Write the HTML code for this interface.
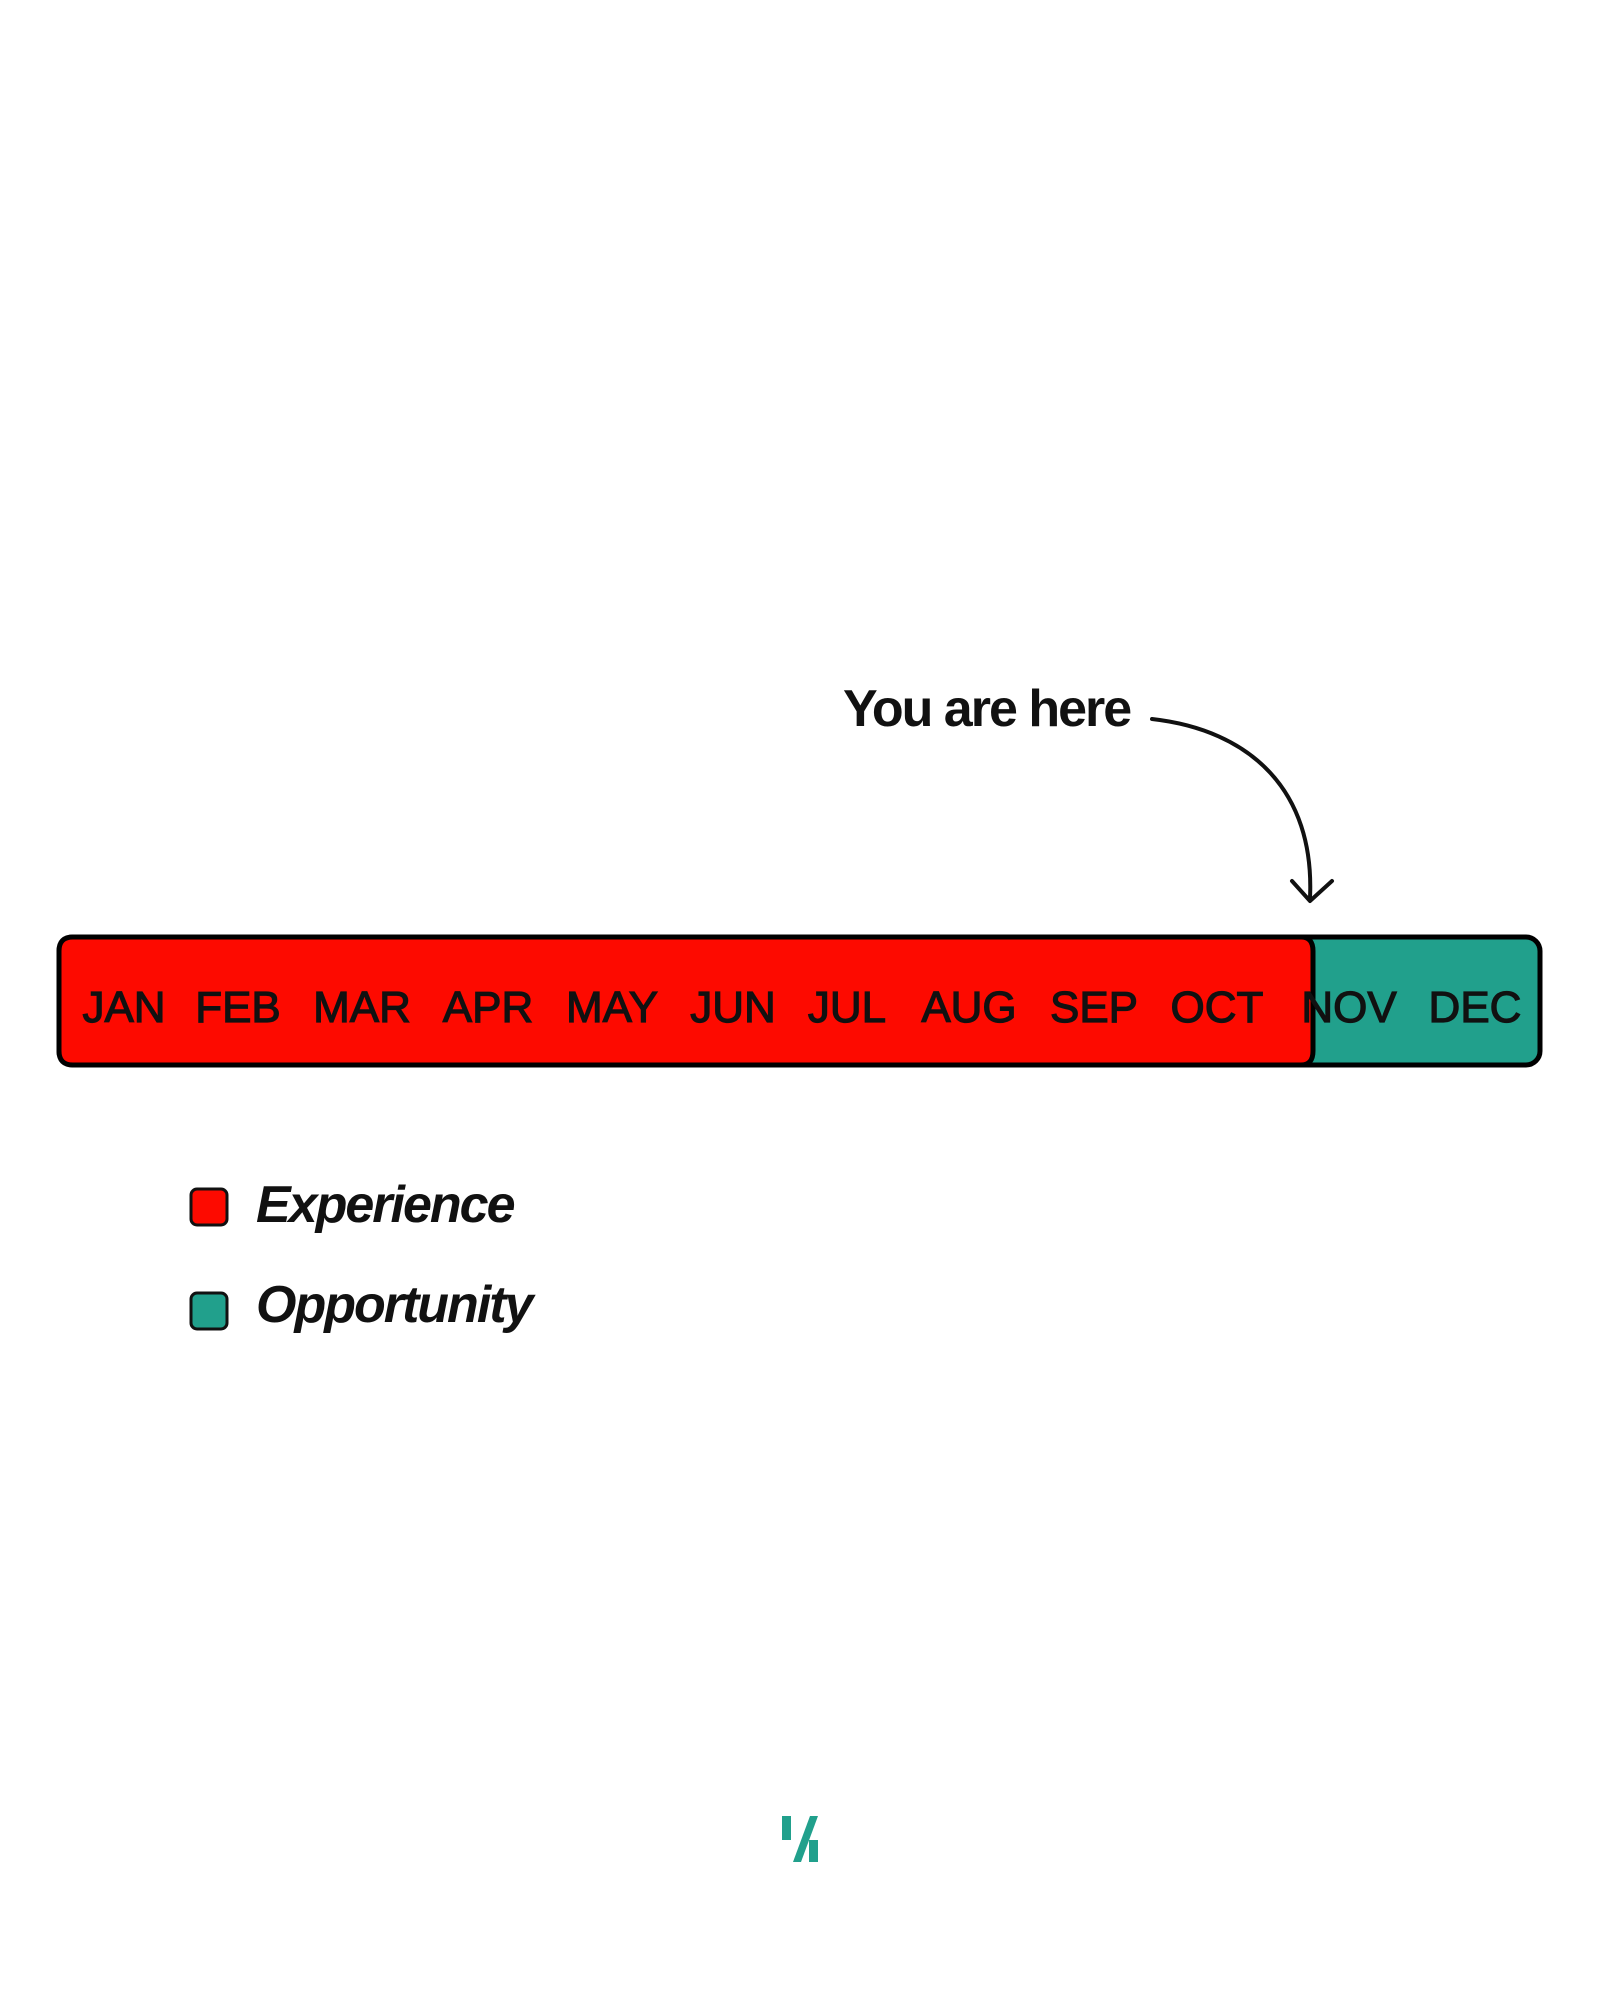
<!DOCTYPE html>
<html><head><meta charset="utf-8"><style>
html,body{margin:0;padding:0;background:#fff;width:1600px;height:2000px;overflow:hidden}
</style></head><body>
<svg width="1600" height="2000" xmlns="http://www.w3.org/2000/svg">
<rect x="0" y="0" width="1600" height="2000" fill="#fff"/>
<rect x="59" y="937" width="1481" height="128" rx="14" fill="#21a08c" stroke="#000" stroke-width="5"/>
<path d="M73 937 H1301 Q1313 937 1313 951 V1051 Q1313 1065 1301 1065 H73 Q59 1065 59 1051 V951 Q59 937 73 937 Z" fill="#fd0a00" stroke="#000" stroke-width="5"/>
<g font-family="'Liberation Sans',sans-serif" font-size="44" fill="#111" stroke="#111" stroke-width="1.2" text-anchor="middle">
<text x="124" y="1022">JAN</text>
<text x="238" y="1022">FEB</text>
<text x="362" y="1022">MAR</text>
<text x="488" y="1022">APR</text>
<text x="612" y="1022">MAY</text>
<text x="733" y="1022">JUN</text>
<text x="847" y="1022">JUL</text>
<text x="969" y="1022">AUG</text>
<text x="1094" y="1022">SEP</text>
<text x="1217" y="1022">OCT</text>
<text x="1349" y="1022">NOV</text>
<text x="1475" y="1022">DEC</text>
</g>
<text x="843" y="726" font-family="'Liberation Sans',sans-serif" font-weight="bold" font-size="52" letter-spacing="-2" fill="#111">You are here</text>
<path d="M1152 719 C1250 730 1315 790 1310 898" fill="none" stroke="#111" stroke-width="4" stroke-linecap="round"/>
<path d="M1292 881 L1310 901 L1332 881" fill="none" stroke="#111" stroke-width="4" stroke-linecap="round" stroke-linejoin="round"/>
<rect x="191" y="1189" width="36" height="36" rx="6" fill="#fd0a00" stroke="#111" stroke-width="3"/>
<rect x="191" y="1293" width="36" height="36" rx="6" fill="#21a08c" stroke="#111" stroke-width="3"/>
<g font-family="'Liberation Sans',sans-serif" font-weight="bold" font-style="italic" font-size="52" letter-spacing="-2" fill="#111">
<text x="256" y="1222">Experience</text>
<text x="256" y="1322">Opportunity</text>
</g>
<rect x="782" y="1816" width="9" height="24" fill="#21a08c"/>
<polygon points="810,1816 818,1816 801,1862 793,1862" fill="#21a08c"/>
<rect x="809" y="1840" width="9" height="22" fill="#21a08c"/>
</svg>
</body></html>
